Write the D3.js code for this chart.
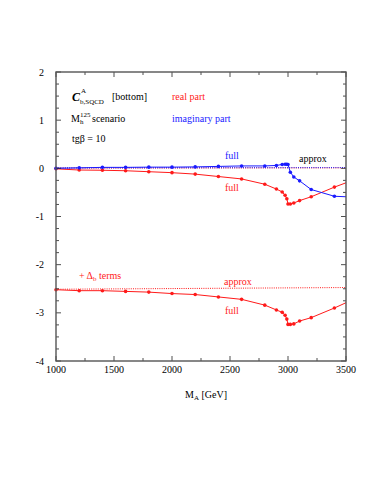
<!DOCTYPE html>
<html lang="en">
<head>
    <meta charset="UTF-8">
    <title>C A b,SQCD bottom</title>
    <style>
        body, html {
            margin: 0;
            padding: 0;
            background-color: #ffffff;
        }
        svg {
            font-family: "Liberation Serif", "Times New Roman", serif;
        }
        .tick-label {
            font-size: 10px;
            fill: #000;
        }
        .note {
            font-size: 10px;
        }
    </style>
</head>
<body>
    <div id="chart"></div>

    <script src="https://d3js.org/d3.v7.min.js"></script>

    <script>
        // M_A values [GeV]
        const massA = [1000, 1200, 1400, 1600, 1800, 2000, 2200, 2400, 2600, 2800, 2900, 2950, 2975, 2990, 3000, 3020, 3050, 3100, 3200, 3400, 3500];
        // real part, full
        const realFull = [-0.01, -0.035, -0.04, -0.05, -0.07, -0.09, -0.12, -0.17, -0.22, -0.33, -0.43, -0.49, -0.56, -0.63, -0.74, -0.74, -0.72, -0.67, -0.59, -0.39, -0.30];
        // imaginary part, full
        const imagMass = [1000, 1200, 1400, 1600, 1800, 2000, 2200, 2400, 2600, 2800, 2900, 2950, 2975, 2990, 3000, 3020, 3050, 3100, 3200, 3400, 3500];
        const imagFull = [0.0, 0.01, 0.02, 0.02, 0.025, 0.025, 0.03, 0.04, 0.05, 0.05, 0.06, 0.08, 0.085, 0.085, 0.08, -0.08, -0.18, -0.26, -0.44, -0.58, -0.59];
        // real part incl. Delta_b terms, full
        const deltaFull = [-2.52, -2.54, -2.54, -2.555, -2.57, -2.60, -2.62, -2.67, -2.72, -2.84, -2.94, -2.99, -3.05, -3.13, -3.24, -3.24, -3.23, -3.17, -3.10, -2.90, -2.79];
        // approximations (end points)
        const approxMass = [1000, 3500];
        const realApprox = [0.005, 0.01];
        const imagApprox = [0.01, 0.015];
        const deltaApprox = [-2.51, -2.475];
        // points without markers at the plot edge
        const markerSkip = [3500];

        const xTicks = [1000, 1500, 2000, 2500, 3000, 3500];
        const yTicks = [2, 1, 0, -1, -2, -3, -4];

        const width = 383, height = 495;
        const margin = { left: 56, right: 37, top: 72, bottom: 134 };

        const svg = d3.select('#chart').append('svg')
            .attr('width', width)
            .attr('height', height);

        const x = d3.scaleLinear().domain([1000, 3500]).range([margin.left, width - margin.right]);
        const y = d3.scaleLinear().domain([-4, 2]).range([height - margin.bottom, margin.top]);

        const red = '#ff1a1a', blue = '#1a1aff';

        function series(xs, ys) {
            return xs.map((v, i) => ({ x: v, y: ys[i] }));
        }

        const line = d3.line().x(d => x(d.x)).y(d => y(d.y));

        function drawFull(data, color) {
            svg.append('path')
                .datum(data)
                .attr('fill', 'none')
                .attr('stroke', color)
                .attr('stroke-width', 1)
                .attr('d', line);
            svg.selectAll(null)
                .data(data.filter(d => !markerSkip.includes(d.x)))
                .enter().append('circle')
                .attr('cx', d => x(d.x))
                .attr('cy', d => y(d.y))
                .attr('r', 1.8)
                .attr('fill', color);
        }

        function drawApprox(data, color) {
            svg.append('path')
                .datum(data)
                .attr('fill', 'none')
                .attr('stroke', color)
                .attr('stroke-width', 1)
                .attr('stroke-dasharray', '1,1.2')
                .attr('d', line);
        }

        drawApprox(series(approxMass, realApprox), red);
        drawApprox(series(approxMass, imagApprox), blue);
        drawApprox(series(approxMass, deltaApprox), red);
        drawFull(series(massA, realFull), red);
        drawFull(series(imagMass, imagFull), blue);
        drawFull(series(massA, deltaFull), red);

        // frame and ticks
        const x0 = x.range()[0], x1 = x.range()[1], y0 = y.range()[0], y1 = y.range()[1];
        const ticksG = svg.append('g').attr('stroke', '#222').attr('stroke-width', 0.8);
        d3.range(1000, 3501, 250).forEach(v => {
            const len = v % 500 === 0 ? 5 : 3;
            ticksG.append('line').attr('x1', x(v)).attr('x2', x(v)).attr('y1', y0).attr('y2', y0 - len);
            ticksG.append('line').attr('x1', x(v)).attr('x2', x(v)).attr('y1', y1).attr('y2', y1 + len);
        });
        d3.range(-4, 2.01, 0.25).forEach(v => {
            const len = Math.abs(v - Math.round(v)) < 1e-6 ? 5 : 3;
            ticksG.append('line').attr('y1', y(v)).attr('y2', y(v)).attr('x1', x0).attr('x2', x0 + len);
            ticksG.append('line').attr('y1', y(v)).attr('y2', y(v)).attr('x1', x1).attr('x2', x1 - len);
        });
        svg.append('rect')
            .attr('x', x0).attr('y', y1)
            .attr('width', x1 - x0).attr('height', y0 - y1)
            .attr('fill', 'none')
            .attr('stroke', '#555')
            .attr('stroke-width', 1.4);

        svg.selectAll('text.xt')
            .data(xTicks)
            .enter().append('text')
            .attr('class', 'tick-label')
            .attr('x', d => x(d))
            .attr('y', y0 + 12)
            .attr('text-anchor', 'middle')
            .text(d => d);

        svg.selectAll('text.yt')
            .data(yTicks)
            .enter().append('text')
            .attr('class', 'tick-label')
            .attr('x', x0 - 12)
            .attr('y', d => y(d) + 3.5)
            .attr('text-anchor', 'end')
            .text(d => d);

        // axis title
        const xt = svg.append('text').attr('class', 'note').attr('x', 185).attr('y', 398);
        xt.append('tspan').text('M');
        xt.append('tspan').attr('font-size', '7px').attr('dy', 2).text('A');
        xt.append('tspan').attr('dy', -2).text(' [GeV]');

        // header notes
        const c = svg.append('text').attr('x', 72).attr('y', 101);
        c.append('tspan').attr('font-size', '12px').attr('font-weight', 'bold').attr('font-style', 'italic').text('C');
        c.append('tspan').attr('font-size', '7px').attr('x', 81).attr('dy', -8).text('A');
        c.append('tspan').attr('font-size', '7px').attr('x', 80).attr('dy', 11).text('b,SQCD');
        svg.append('text').attr('class', 'note').attr('x', 112).attr('y', 100).text('[bottom]');
        svg.append('text').attr('class', 'note').attr('x', 172).attr('y', 100).attr('fill', red).text('real part');

        const m = svg.append('text').attr('class', 'note').attr('x', 71).attr('y', 122);
        m.append('tspan').text('M');
        m.append('tspan').attr('font-size', '7px').attr('x', 80).attr('dy', 2).text('h');
        m.append('tspan').attr('font-size', '7px').attr('x', 80).attr('dy', -7).text('125');
        m.append('tspan').attr('x', 92).attr('dy', 5).text('scenario');
        svg.append('text').attr('class', 'note').attr('x', 172).attr('y', 122).attr('fill', blue).text('imaginary part');

        svg.append('text').attr('class', 'note').attr('x', 72).attr('y', 142).text('tgβ = 10');

        // curve labels
        svg.append('text').attr('class', 'note').attr('x', 225).attr('y', 159).attr('fill', blue).text('full');
        svg.append('text').attr('class', 'note').attr('x', 299).attr('y', 162).attr('fill', '#000').text('approx');
        svg.append('text').attr('class', 'note').attr('x', 225).attr('y', 191).attr('fill', red).text('full');

        const d = svg.append('text').attr('class', 'note').attr('x', 79).attr('y', 279).attr('fill', red);
        d.append('tspan').text('+ Δ');
        d.append('tspan').attr('font-size', '7px').attr('dy', 2).text('b');
        d.append('tspan').attr('dy', -2).text(' terms');
        svg.append('text').attr('class', 'note').attr('x', 224).attr('y', 285).attr('fill', red).text('approx');
        svg.append('text').attr('class', 'note').attr('x', 225).attr('y', 314).attr('fill', red).text('full');
    </script>
</body>
</html>
